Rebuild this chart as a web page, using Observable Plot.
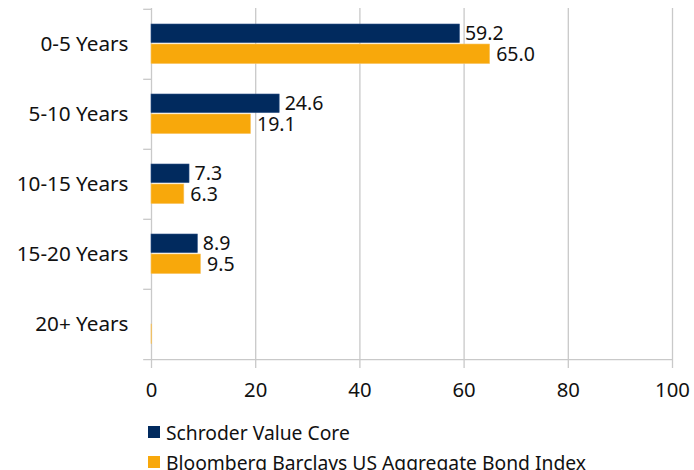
<!DOCTYPE html>
<html>
<head>
<meta charset="utf-8">
<script src="https://cdn.jsdelivr.net/npm/d3@7"></script>
<script src="https://cdn.jsdelivr.net/npm/@observablehq/plot@0.6"></script>
<style>
  body { margin: 0; background: #fff; font-family: "Noto Sans", sans-serif; }
  #legend { margin-left: 148px; font-size: 19.3px; color: #111; padding-top: 7px; }
  #legend .item { display: flex; align-items: center; height: 30px; white-space: nowrap; }
  #legend .sw { width: 12px; height: 12px; margin-right: 6px; display: inline-block; }
</style>
</head>
<body>
<div id="chart"></div>
<div id="legend"></div>
<script>
const categories = ["0-5 Years", "5-10 Years", "10-15 Years", "15-20 Years", "20+ Years"];
const seriesNames = ["Schroder Value Core", "Bloomberg Barclays US Aggregate Bond Index"];
const schroder = [59.2, 24.6, 7.3, 8.9, 0];
const bloomberg = [65.0, 19.1, 6.3, 9.5, 0.1];
const schroderLabels = ["59.2", "24.6", "7.3", "8.9", ""];
const bloombergLabels = ["65.0", "19.1", "6.3", "9.5", ""];
const xTicks = [0, 20, 40, 60, 80, 100];
const colors = ["#012a5e", "#f8a80b"];

const W = 694, H = 410, mT = 8, mB = 50;
const bw = (H - mT - mB) / categories.length;

const rowsA = categories.map((c, i) => ({cat: c, v: schroder[i], label: schroderLabels[i]}));
const rowsB = categories.map((c, i) => ({cat: c, v: bloomberg[i], label: bloombergLabels[i]}));

const grid = "#c9c9c9";
const plot = Plot.plot({
  width: W, height: H,
  marginLeft: 151, marginRight: 22, marginTop: mT, marginBottom: mB,
  style: {fontFamily: "Noto Sans, sans-serif", fontSize: "20px", color: "#111", background: "#fff"},
  x: {domain: [0, 100], ticks: xTicks},
  y: {domain: categories, padding: 0},
  marks: [
    Plot.ruleX(xTicks, {stroke: grid, strokeWidth: 1.3}),
    // category boundary ticks on the left
    Plot.ruleY(categories, {y: d => d, dy: -bw / 2, x1: -1.5, x2: 0, stroke: grid, strokeWidth: 1.3}),
    Plot.ruleY([categories[categories.length - 1]], {y: d => d, dy: bw / 2, x1: -1.5, x2: 100, stroke: grid, strokeWidth: 1.3}),
    Plot.barX(rowsA, {x: "v", y: "cat", fill: colors[0], stroke: "#2e5287", strokeWidth: 0.6, insetTop: 15, insetBottom: bw - 34}),
    Plot.barX(rowsB, {x: "v", y: "cat", fill: colors[1], stroke: "#f7c56a", strokeWidth: 0.6, insetTop: 35, insetBottom: bw - 55}),
    Plot.text(rowsA, {x: "v", y: "cat", text: "label", dy: -11, dx: 5, textAnchor: "start", fontSize: 19.5, fill: "#111"}),
    Plot.text(rowsB, {x: "v", y: "cat", text: "label", dy: 10, dx: 6, textAnchor: "start", fontSize: 19.5, fill: "#111"}),
    Plot.axisY({tickSize: 0, tickPadding: 23, fontSize: 20.7, label: null}),
    Plot.axisX({ticks: xTicks, tickSize: 8, tickPadding: 14, stroke: grid, strokeWidth: 1.3, fontSize: 20.3, label: null})
  ]
});
document.getElementById("chart").appendChild(plot);

const legend = document.getElementById("legend");
seriesNames.forEach((name, i) => {
  const item = document.createElement("div");
  item.className = "item";
  const sw = document.createElement("span");
  sw.className = "sw";
  sw.style.background = colors[i];
  item.appendChild(sw);
  item.appendChild(document.createTextNode(name));
  legend.appendChild(item);
});
</script>
</body>
</html>
